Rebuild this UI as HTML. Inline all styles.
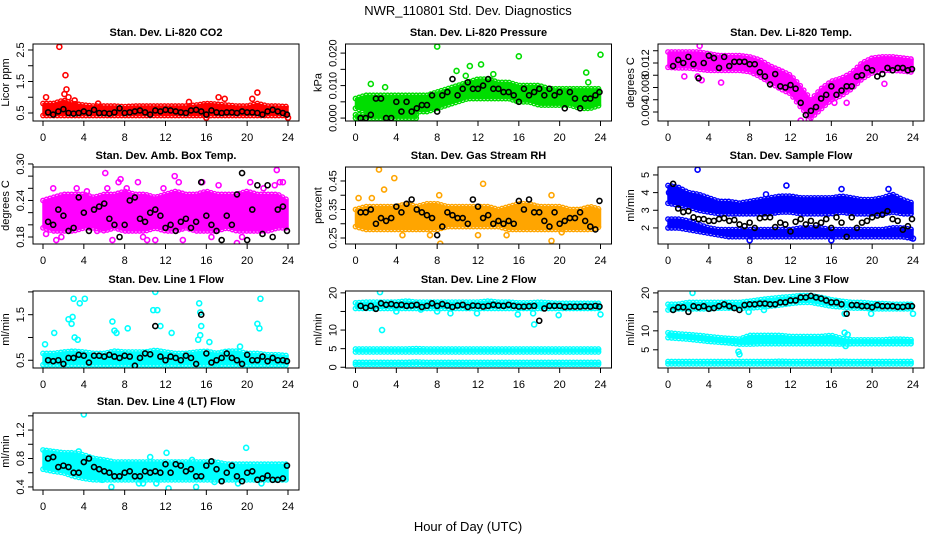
<!DOCTYPE html>
<html><head><meta charset="utf-8"><style>
body{margin:0;background:#fff;}
svg{display:block;font-family:"Liberation Sans",sans-serif;}
</style></head><body>
<svg id="chart" width="936" height="540" viewBox="0 0 936 540">
<text x="468" y="15" text-anchor="middle" font-size="13">NWR_110801  Std. Dev. Diagnostics</text>
<text x="468" y="531" text-anchor="middle" font-size="13">Hour of Day (UTC)</text>
</svg>
<script>
const xTicks=[0,4,8,12,16,20,24];
const bandHours=[0,1,2,3,4,5,6,7,8,9,10,11,12,13,14,15,16,17,18,19,20,21,22,23,24];
const blackHours=[0.5,1,1.5,2,2.5,3,3.5,4,4.5,5,5.5,6,6.5,7,7.5,8,8.5,9,9.5,10,10.5,11,11.5,12,12.5,13,13.5,14,14.5,15,15.5,16,16.5,17,17.5,18,18.5,19,19.5,20,20.5,21,21.5,22,22.5,23,23.5,23.9];

// P1 CO2
const co2Lo=[0.42,0.42,0.42,0.42,0.42,0.42,0.42,0.42,0.42,0.42,0.42,0.42,0.42,0.42,0.42,0.42,0.42,0.42,0.42,0.42,0.42,0.42,0.42,0.42,0.42];
const co2Hi=[0.8,0.8,0.9,0.8,0.75,0.72,0.72,0.72,0.7,0.72,0.72,0.72,0.72,0.72,0.72,0.75,0.8,0.78,0.75,0.72,0.72,0.8,0.72,0.72,0.7];
const co2OutH=[1.6,2.2,2.3,2.1,0.3,3.1,5.4,17.2,17.8,21,20.5,16,24,14.3,2.5];
const co2OutV=[2.6,1.7,1.25,1.1,1.0,0.9,0.8,1.0,0.95,1.15,0.95,0.35,0.35,0.85,1.0];
const co2Black=[0.52,0.45,0.55,0.62,0.5,0.48,0.5,0.55,0.5,0.6,0.5,0.5,0.48,0.52,0.65,0.5,0.52,0.55,0.58,0.52,0.45,0.58,0.55,0.6,0.58,0.55,0.52,0.5,0.58,0.6,0.55,0.45,0.58,0.52,0.5,0.52,0.52,0.5,0.55,0.52,0.52,0.5,0.45,0.55,0.6,0.55,0.5,0.45];
// P2 Pressure
const prLo=[0.003,0.002,0.002,0.002,0.002,0.002,0.002,0.002,0.003,0.004,0.005,0.006,0.006,0.006,0.006,0.006,0.005,0.005,0.004,0.004,0.004,0.004,0.003,0.003,0.004];
const prHi=[0.006,0.007,0.007,0.007,0.007,0.007,0.007,0.007,0.008,0.009,0.010,0.011,0.012,0.012,0.011,0.011,0.010,0.010,0.010,0.009,0.009,0.009,0.009,0.009,0.009];
const prLowH=[0,1,2,3,4,5,6];
const prLowLo=[0,0,0,0,0,0,0];
const prLowHi=[0.001,0.001,0.001,0.001,0.001,0.001,0.001];
const prOutH=[8,16,24,1.5,2.9,9.9,11.2,12.3,13.5,22.6,22.8,0.3,10.8];
const prOutV=[0.022,0.019,0.0195,0.0105,0.0095,0.0145,0.016,0.0165,0.0135,0.014,0.011,0.0035,0.013];
const prBlack=[0.0,0.0,0.001,0.006,0.006,0.0,0.0,0.005,0.002,0.005,0.002,0.003,0.004,0.004,0.007,0.002,0.007,0.008,0.012,0.007,0.009,0.011,0.009,0.009,0.010,0.012,0.009,0.009,0.008,0.008,0.007,0.005,0.009,0.007,0.008,0.009,0.007,0.009,0.007,0.008,0.003,0.008,0.006,0.003,0.006,0.006,0.007,0.008];
// P3 Temp
const tmLo=[0.0113,0.0112,0.0112,0.011,0.0108,0.0108,0.0108,0.0108,0.0106,0.0098,0.0088,0.0078,0.007,0.0048,0.003,0.0045,0.006,0.0067,0.0078,0.0094,0.0104,0.0108,0.0108,0.0107,0.0105];
const tmHi=[0.0138,0.0138,0.0138,0.0138,0.0135,0.0132,0.0132,0.0132,0.013,0.0125,0.0115,0.0108,0.01,0.0082,0.006,0.0078,0.009,0.0095,0.0104,0.012,0.0128,0.013,0.013,0.0128,0.0126];
const tmOutH=[3.1,3.3,5.2,2.9,13,13.8,16.3,17.5,21.2,1.6,15];
const tmOutV=[0.0148,0.0092,0.0088,0.0098,0.0026,0.0027,0.0055,0.0055,0.0086,0.0098,0.0055];
const tmBlack=[0.0115,0.0125,0.012,0.013,0.0118,0.0095,0.012,0.0132,0.0128,0.0112,0.013,0.0115,0.0122,0.0122,0.0122,0.0118,0.0118,0.0105,0.0098,0.0085,0.0102,0.0082,0.008,0.0084,0.0078,0.0055,0.0035,0.0042,0.0048,0.0062,0.0068,0.0082,0.0068,0.0075,0.0082,0.0082,0.0098,0.01,0.0112,0.0108,0.0098,0.0102,0.0112,0.0108,0.0112,0.0112,0.0108,0.011];
// P4 Amb box
const abLo=[0.195,0.19,0.19,0.19,0.195,0.195,0.19,0.195,0.19,0.19,0.19,0.195,0.19,0.19,0.195,0.19,0.19,0.19,0.195,0.19,0.19,0.19,0.19,0.195,0.195];
const abHi=[0.24,0.245,0.25,0.25,0.25,0.245,0.25,0.25,0.255,0.25,0.25,0.245,0.25,0.255,0.25,0.25,0.255,0.25,0.25,0.25,0.255,0.25,0.25,0.25,0.24];
const abOutH=[0.3,1,1.3,1.8,3.3,4.3,6.1,6.3,6.8,7.4,7.6,8.2,9.3,9.8,10.2,11.8,12.9,13.3,13.7,15.6,16.5,17.2,19,19.5,20.3,21.6,22.7,22.9,23.2,23.5,5.3,11];
const abOutV=[0.185,0.26,0.175,0.18,0.26,0.255,0.285,0.26,0.175,0.27,0.275,0.26,0.27,0.18,0.175,0.26,0.28,0.27,0.175,0.27,0.18,0.265,0.17,0.18,0.27,0.26,0.265,0.29,0.27,0.27,0.19,0.175];
const abBlack=[0.205,0.2,0.225,0.215,0.19,0.195,0.245,0.22,0.19,0.225,0.23,0.235,0.21,0.2,0.18,0.2,0.24,0.245,0.21,0.205,0.22,0.225,0.215,0.195,0.2,0.19,0.205,0.21,0.195,0.205,0.27,0.215,0.2,0.19,0.175,0.215,0.2,0.25,0.285,0.175,0.225,0.265,0.185,0.265,0.18,0.225,0.23,0.19];
// P5 RH
const rhLo=[0.29,0.28,0.28,0.28,0.28,0.28,0.28,0.28,0.28,0.29,0.29,0.29,0.29,0.29,0.29,0.28,0.28,0.28,0.28,0.28,0.28,0.28,0.28,0.28,0.29];
const rhHi=[0.35,0.36,0.36,0.36,0.36,0.37,0.36,0.37,0.37,0.36,0.36,0.36,0.36,0.36,0.35,0.36,0.37,0.37,0.36,0.36,0.36,0.35,0.35,0.36,0.35];
const rhOutH=[2.3,3.8,2.8,12.5,0.3,8.2,19.2,7.3,8.3,12,14.8,19.2,1.6,4.6,20.2];
const rhOutV=[0.49,0.46,0.42,0.44,0.39,0.4,0.4,0.26,0.23,0.26,0.26,0.24,0.39,0.26,0.27];
const rhBlack=[0.34,0.34,0.35,0.3,0.32,0.31,0.32,0.36,0.34,0.37,0.385,0.35,0.34,0.33,0.32,0.26,0.29,0.34,0.33,0.32,0.32,0.3,0.385,0.36,0.32,0.33,0.3,0.31,0.3,0.31,0.3,0.38,0.35,0.385,0.34,0.34,0.31,0.29,0.34,0.3,0.31,0.32,0.32,0.34,0.31,0.29,0.28,0.38];
// P6 Sample flow
const sfUpLo=[3.4,3.3,3.2,3.0,2.9,2.8,2.8,2.8,2.8,2.8,2.8,2.9,2.9,2.8,2.8,2.8,2.8,2.9,2.8,2.8,2.8,2.8,2.9,2.8,2.8];
const sfUpHi=[4.4,4.3,4.0,3.9,3.7,3.5,3.5,3.4,3.5,3.6,3.7,3.8,3.8,3.7,3.7,3.7,3.7,3.8,3.7,3.6,3.6,3.7,3.9,3.6,3.4];
const sfDnLo=[2.0,2.0,1.9,1.8,1.7,1.6,1.5,1.5,1.5,1.5,1.5,1.5,1.5,1.5,1.5,1.5,1.5,1.5,1.5,1.5,1.5,1.5,1.5,1.5,1.4];
const sfDnHi=[2.5,2.5,2.4,2.2,2.0,1.9,1.9,1.9,1.9,1.9,1.9,1.9,1.9,2.0,2.0,2.0,1.9,1.9,1.9,1.9,1.9,1.9,2.0,2.0,1.9];
const sfOutH=[2.9,11.6,17,21.6,8,16,24,9.6,0.1];
const sfOutV=[5.3,4.4,4.2,4.2,1.3,1.3,1.4,3.9,4.0];
const sfBlack=[4.5,3.1,2.9,2.95,2.6,2.5,2.5,2.4,2.4,2.5,2.55,2.4,2.45,2.2,2.1,2.3,2.0,2.55,2.6,2.6,2.05,2.3,2.2,1.8,2.35,2.5,2.2,2.4,2.15,2.3,2.5,2.0,2.6,2.3,1.5,2.6,2.0,2.3,2.4,2.6,2.7,2.75,2.95,2.5,2.4,1.9,2.1,2.5];
// P7 Line 1
const l1Lo=[0.4,0.4,0.4,0.4,0.4,0.4,0.4,0.4,0.4,0.4,0.4,0.4,0.4,0.4,0.4,0.4,0.4,0.4,0.4,0.4,0.4,0.4,0.4,0.4,0.4];
const l1Hi=[0.65,0.65,0.68,0.7,0.68,0.65,0.65,0.7,0.68,0.68,0.68,0.72,0.68,0.65,0.65,0.68,0.7,0.65,0.7,0.7,0.65,0.65,0.62,0.62,0.6];
const l1OutH=[0.2,1.1,2.5,2.8,2.9,3,3.1,3.4,3.6,4.1,6.8,7,7.2,8.3,10.8,11,11.2,11.5,12.6,15.3,15.4,15.5,15.4,15.2,16.3,21,21.2,21.3,13.3,17,19.3];
const l1OutV=[0.85,1.1,1.4,1.3,1.45,1.85,1.0,0.95,1.75,1.85,1.35,1.15,1.1,1.2,1.6,2.0,1.6,1.25,1.1,1.75,1.55,1.25,1.05,0.95,0.9,1.3,1.2,1.85,0.35,0.35,0.8];
const l1Black=[0.5,0.48,0.5,0.42,0.55,0.55,0.62,0.6,0.45,0.6,0.6,0.58,0.62,0.58,0.55,0.6,0.58,0.38,0.55,0.65,0.63,1.25,0.58,0.5,0.58,0.55,0.5,0.6,0.55,0.42,1.5,0.65,0.45,0.5,0.55,0.65,0.55,0.5,0.42,0.62,0.5,0.5,0.58,0.48,0.55,0.5,0.5,0.48];
// P8 Line 2
const l2TopLo=[15.8,15.8,15.8,15.8,15.8,15.8,15.8,15.8,15.8,15.8,15.8,15.8,15.8,15.8,15.8,15.8,15.8,15.8,15.8,15.8,15.8,15.8,15.8,15.8,15.8];
const l2TopHi=[17.3,17.5,17.5,17.5,17.5,17.8,17.5,17.5,17.5,17.5,17.5,17.5,17.5,17.8,17.5,17.5,17.3,17.3,17.5,17.3,17.2,17.2,17.2,17.2,17.2];
const l2MidLo=[4.1,4.1,4.1,4.1,4.1,4.1,4.1,4.1,4.1,4.1,4.1,4.1,4.1,4.1,4.1,4.1,4.1,4.1,4.1,4.1,4.1,4.1,4.1,4.1,4.1];
const l2MidHi=[4.9,4.9,4.9,4.9,4.9,4.9,5.0,4.9,4.9,4.9,4.9,4.9,4.9,4.9,4.9,4.9,4.9,4.9,4.9,4.9,4.9,4.9,4.9,4.9,4.9];
const l2BotLo=[0.8,0.8,0.8,0.8,0.8,0.8,0.8,0.8,0.8,0.8,0.8,0.8,0.8,0.8,0.8,0.8,0.8,0.8,0.8,0.8,0.8,0.8,0.8,0.8,0.8];
const l2BotHi=[1.3,1.3,1.3,1.3,1.3,1.3,1.4,1.3,1.3,1.3,1.3,1.3,1.3,1.3,1.3,1.3,1.3,1.3,1.3,1.3,1.3,1.3,1.3,1.3,1.3];
const l2OutH=[2.4,2.6,4,9.3,11.9,15.9,17.4,17.5,19.9,24,8,6.4];
const l2OutV=[20.2,10,15,14.5,14.5,14.2,14.5,11.5,14,14.2,15,15.5];
const l2Black=[16.5,16,16.5,15.7,17.2,16.8,17,16.7,16.8,16.5,16.6,16.8,16.2,16.5,17.2,16.5,17,16.6,16.2,16.6,16.8,16.2,16.6,16.5,16.3,16.5,16.8,16.6,16.5,16.8,16.5,16.3,16.3,16.4,16.5,12.5,15.8,16.5,16.5,16.5,16.2,16.3,16.3,16.3,16.4,16.3,16.5,16.3];
// P9 Line 3
const l3TopLo=[15.5,15.8,15.8,15.8,15.8,16,16,16,16,16.2,16.5,16.8,17.2,17.5,17.5,17,16.5,16.3,16,16,15.8,15.8,15.8,15.8,15.8];
const l3TopHi=[17,17,17.5,17.5,17.5,17.5,17.5,17.5,17.8,18.2,18.5,18.8,19,19.3,19.3,18.8,18.2,17.8,17.5,17.5,17.2,17.2,17,17,17];
const l3MidLo=[8.2,8,7.8,7.5,7.2,7,6.8,6.5,6.5,6.6,6.6,6.6,6.6,6.6,6.6,6.6,6.6,6.5,6.6,6.6,6.6,6.6,6.6,6.6,6.6];
const l3MidHi=[9.5,9.2,9,8.8,8.5,8.2,8,7.8,8.8,8.8,8.8,8.8,8.5,8.5,8.5,8.5,8.8,8,7.6,7.6,7.6,7.6,7.8,7.8,7.6];
const l3BotLo=[1.3,1.3,1.3,1.3,1.3,1.3,1.3,1.3,1.3,1.3,1.3,1.3,1.3,1.3,1.3,1.3,1.3,1.3,1.3,1.3,1.3,1.3,1.3,1.3,1.3];
const l3BotHi=[1.9,1.9,1.9,1.9,1.9,1.9,1.9,1.9,1.9,1.9,1.9,2.0,1.9,1.9,1.9,1.9,1.9,2.0,1.9,1.9,1.9,1.9,1.9,1.9,1.9];
const l3OutH=[2.4,6.9,7.0,17.4,17.3,17.6,7.9,9.4,24,17.3,19.9];
const l3OutV=[20,4.5,3.8,6,9.5,9,15,15.5,14.5,14.5,14.5];
const l3Black=[15.5,16.2,16.2,15,16.5,16.2,16.5,15.8,16,16.5,17,16.5,16,15.5,16.8,17,17,17.2,17.2,17,17,17.5,17.5,18,18,18.8,18.8,19.2,18.8,18.5,18,17.5,17.5,17,14.5,16.8,16.8,16.5,16.5,16.2,16.8,16.5,16.5,16.5,16.3,16.3,16.5,16.5];
// P10 Line 4
const l4Lo=[0.65,0.62,0.6,0.55,0.52,0.5,0.5,0.5,0.5,0.5,0.5,0.5,0.5,0.5,0.5,0.5,0.5,0.5,0.5,0.5,0.5,0.5,0.5,0.5,0.5];
const l4Hi=[0.92,0.9,0.88,0.88,0.85,0.8,0.78,0.75,0.75,0.75,0.75,0.75,0.75,0.75,0.75,0.75,0.75,0.75,0.72,0.72,0.72,0.72,0.72,0.72,0.72];
const l4OutH=[4,12.1,19.9,3.5,6.7,12.3,15,5.8,9.4,9.8,11.1,16.8,19.1,21.4,10.5,14.6];
const l4OutV=[1.42,0.88,0.95,0.9,0.4,0.38,0.4,0.5,0.45,0.45,0.45,0.47,0.45,0.45,0.82,0.78];
const l4Black=[0.8,0.82,0.68,0.7,0.68,0.6,0.6,0.75,0.8,0.68,0.65,0.62,0.6,0.55,0.55,0.6,0.62,0.55,0.55,0.62,0.6,0.62,0.6,0.72,0.6,0.72,0.7,0.62,0.65,0.55,0.55,0.7,0.76,0.65,0.48,0.6,0.7,0.55,0.48,0.6,0.62,0.5,0.52,0.56,0.5,0.5,0.52,0.7];

const panels=[
 {name:'co2',title:'Stan. Dev. Li-820 CO2',ylab:'Licor ppm',col:0,row:0,ymin:0.246,ymax:2.69,yt:[0.5,1,1.5,2,2.5],yl:['0.5','','1.5','','2.5'],color:'#ff0000',bands:[[bandHours,co2Lo,co2Hi]],oh:co2OutH,ov:co2OutV,black:co2Black},
 {name:'pressure',title:'Stan. Dev. Li-820 Pressure',ylab:'kPa',col:1,row:0,ymin:-0.0009,ymax:0.0228,yt:[0,0.005,0.01,0.015,0.02],yl:['0.000','','0.010','','0.020'],color:'#00dd00',bands:[[bandHours,prLo,prHi],[prLowH,prLowLo,prLowHi]],oh:prOutH,ov:prOutV,black:prBlack},
 {name:'temp',title:'Stan. Dev. Li-820 Temp.',ylab:'degrees C',col:2,row:0,ymin:0.00253,ymax:0.0151,yt:[0.004,0.006,0.008,0.010,0.012,0.014],yl:['0.004','','0.008','','0.012',''],color:'#ff00ff',bands:[[bandHours,tmLo,tmHi]],oh:tmOutH,ov:tmOutV,black:tmBlack},
 {name:'amb-box',title:'Stan. Dev. Amb. Box Temp.',ylab:'degrees C',col:0,row:1,ymin:0.1685,ymax:0.295,yt:[0.18,0.2,0.22,0.24,0.26,0.28,0.30],yl:['0.18','','','0.24','','','0.30'],color:'#ff00ff',bands:[[bandHours,abLo,abHi]],oh:abOutH,ov:abOutV,black:abBlack},
 {name:'rh',title:'Stan. Dev. Gas Stream RH',ylab:'percent',col:1,row:1,ymin:0.229,ymax:0.499,yt:[0.25,0.3,0.35,0.4,0.45],yl:['0.25','','0.35','','0.45'],color:'#ffa500',bands:[[bandHours,rhLo,rhHi]],oh:rhOutH,ov:rhOutV,black:rhBlack},
 {name:'sample-flow',title:'Stan. Dev. Sample Flow',ylab:'ml/min',col:2,row:1,ymin:1.09,ymax:5.45,yt:[2,3,4,5],yl:['2','3','4','5'],color:'#0000ff',bands:[[bandHours,sfUpLo,sfUpHi],[bandHours,sfDnLo,sfDnHi]],oh:sfOutH,ov:sfOutV,black:sfBlack},
 {name:'line1',title:'Stan. Dev. Line 1 Flow',ylab:'ml/min',col:0,row:2,ymin:0.33,ymax:2.02,yt:[0.5,1,1.5,2],yl:['0.5','','1.5',''],color:'#00ffff',bands:[[bandHours,l1Lo,l1Hi]],oh:l1OutH,ov:l1OutV,black:l1Black},
 {name:'line2',title:'Stan. Dev. Line 2 Flow',ylab:'ml/min',col:1,row:2,ymin:-0.2,ymax:20.5,yt:[0,5,10,15,20],yl:['0','5','10','','20'],color:'#00ffff',bands:[[bandHours,l2TopLo,l2TopHi],[bandHours,l2MidLo,l2MidHi],[bandHours,l2BotLo,l2BotHi]],oh:l2OutH,ov:l2OutV,black:l2Black},
 {name:'line3',title:'Stan. Dev. Line 3 Flow',ylab:'ml/min',col:2,row:2,ymin:0.2,ymax:20.5,yt:[5,10,15,20],yl:['5','10','','20'],color:'#00ffff',bands:[[bandHours,l3TopLo,l3TopHi],[bandHours,l3MidLo,l3MidHi],[bandHours,l3BotLo,l3BotHi]],oh:l3OutH,ov:l3OutV,black:l3Black},
 {name:'line4',title:'Stan. Dev. Line 4 (LT) Flow',ylab:'ml/min',col:0,row:3,ymin:0.357,ymax:1.44,yt:[0.4,0.6,0.8,1.0,1.2,1.4],yl:['0.4','','0.8','','1.2',''],color:'#00ffff',bands:[[bandHours,l4Lo,l4Hi]],oh:l4OutH,ov:l4OutV,black:l4Black}
];
const NS='http://www.w3.org/2000/svg';
const svg=document.getElementById('chart');
const colLeft=[33,345.5,658], rowTop=[44,167,291,413], W=266, H=77;
function mk(tag,attrs,parent){const e=document.createElementNS(NS,tag);for(const k in attrs)e.setAttribute(k,attrs[k]);parent.appendChild(e);return e;}
function interp(hs,vs,h){for(let i=0;i<hs.length-1;i++){if(h>=hs[i]&&h<=hs[i+1]){const t=(h-hs[i])/(hs[i+1]-hs[i]);return vs[i]+t*(vs[i+1]-vs[i]);}}return vs[vs.length-1];}
panels.forEach(p=>{
 const L=colLeft[p.col],T=rowTop[p.row],B=T+H,R=L+W;
 const x0=L+10,x24=L+255;
 const sx=h=>x0+h/24*(x24-x0);
 const sy=v=>B-(v-p.ymin)/(p.ymax-p.ymin)*H;
 const g=mk('g',{},svg);
 
 
 const cp=mk('clipPath',{id:'cp-'+p.name},g);
 mk('rect',{x:L,y:T,width:W,height:H},cp);
 const pg=mk('g',{'clip-path':'url(#cp-'+p.name+')'},g);
 p.bands.forEach((b,bi)=>{
  const [hs,lo,hi]=b;
  let d='M'+hs.map((h,i)=>sx(h)+','+sy(hi[i])).join(' L');
  d+=' L'+hs.slice().reverse().map((h,i)=>sx(h)+','+sy(lo[hs.length-1-i])).join(' L')+'Z';
  const band=mk('path',{d:d,fill:p.color,stroke:p.color,'stroke-width':1.5,'stroke-linejoin':'round'},pg);
  
  
  for(let h=hs[0];h<=hs[hs.length-1]+1e-9;h+=0.35){
   [interp(hs,lo,h),interp(hs,hi,h)].forEach((v,k)=>{
    const c=mk('circle',{cx:sx(h),cy:sy(v),r:2.2,fill:'none',stroke:p.color,'stroke-width':1.4},pg);
    
    
   });
  }
 });
 p.oh.forEach((h,i)=>{
  const c=mk('circle',{cx:sx(h),cy:sy(p.ov[i]),r:2.5,fill:'none',stroke:p.color,'stroke-width':1.6},pg);
  
  
 });
 p.black.forEach((v,i)=>{
  const c=mk('circle',{cx:sx(blackHours[i]),cy:sy(v),r:2.5,fill:'none',stroke:'#000','stroke-width':1.6},pg);
  
  
 });
 const box=mk('rect',{x:L,y:T,width:W,height:H,fill:'none',stroke:'#000','stroke-width':1},g);
 
 
 const t=mk('text',{x:L+W/2,y:T-8,'text-anchor':'middle','font-size':11,'font-weight':'bold'},g);
 t.textContent=p.title;
 
 
 mk('line',{x1:sx(0),x2:sx(24),y1:B,y2:B,stroke:'#000'},g);
 xTicks.forEach(h=>{
  mk('line',{x1:sx(h),x2:sx(h),y1:B,y2:B+5,stroke:'#000'},g);
  const tx=mk('text',{x:sx(h),y:B+20,'text-anchor':'middle','font-size':11},g);
  tx.textContent=h;
  
  
 });
 mk('line',{x1:L,x2:L,y1:sy(p.yt[0]),y2:sy(p.yt[p.yt.length-1]),stroke:'#000'},g);
 p.yt.forEach((v,i)=>{
  const y=sy(v);
  mk('line',{x1:L-5,x2:L,y1:y,y2:y,stroke:'#000'},g);
  if(p.yl[i]){
   const ty=mk('text',{x:L-9,y:y,'text-anchor':'middle','font-size':11,transform:'rotate(-90 '+(L-9)+' '+y+')'},g);
   ty.textContent=p.yl[i];
   
   
  }
 });
 const yt=mk('text',{x:L-24,y:T+H/2,'text-anchor':'middle','font-size':11,transform:'rotate(-90 '+(L-24)+' '+(T+H/2)+')'},g);
 yt.textContent=p.ylab;
 
 
});
</script>
</body></html>
